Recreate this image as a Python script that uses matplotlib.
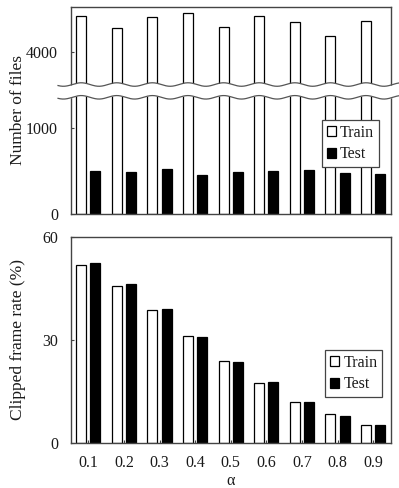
import numpy as np
import matplotlib
matplotlib.use("Agg")
import matplotlib.pyplot as plt
from matplotlib.transforms import blended_transform_factory

plt.rcParams['font.family'] = ['Liberation Serif', 'DejaVu Serif']

alphas = ["0.1", "0.2", "0.3", "0.4", "0.5", "0.6", "0.7", "0.8", "0.9"]
files_train = [4413, 4270, 4402, 4452, 4293, 4421, 4351, 4181, 4363]
files_test = [490, 479, 521, 452, 479, 490, 502, 471, 463]
clip_train = [51.8, 45.7, 38.6, 31.0, 23.9, 17.3, 12.0, 8.4, 5.3]
clip_test = [52.4, 46.2, 38.8, 30.9, 23.6, 17.6, 12.0, 7.9, 5.2]

files_ticks = [0, 1000, 4000]
clip_ticks = [0, 30, 60]

# broken axis: values between LOW and HIGH are squeezed into a narrow band
LOW, HIGH, SHIFT = 1350.0, 3619.0, 2114.0
MID_SLOPE = ((HIGH - SHIFT) - LOW) / (HIGH - LOW)


def fwd(y):
    y = np.asarray(y, dtype=float)
    return np.where(y <= LOW, y,
                    np.where(y >= HIGH, y - SHIFT, LOW + (y - LOW) * MID_SLOPE))


def inv(v):
    v = np.asarray(v, dtype=float)
    top = HIGH - SHIFT
    return np.where(v <= LOW, v,
                    np.where(v >= top, v + SHIFT, LOW + (v - LOW) / MID_SLOPE))


EDGE = "#444444"
TXT = "#1a1a1a"
W, H = 399, 488
fig = plt.figure(figsize=(W / 100, H / 100), dpi=100)

left = 70.5 / W
width = 320.5 / W
ax1 = fig.add_axes([left, (H - 213.5) / H, width, 206.2 / H])
ax2 = fig.add_axes([left, (H - 442.7) / H, width, 206.0 / H])

x = np.arange(len(alphas))
bw = 0.28
off = 0.2


def style(ax):
    for s in ax.spines.values():
        s.set_color(EDGE)
        s.set_linewidth(1.0)
    ax.tick_params(axis='both', direction='in', length=2.5, width=0.8,
                   colors=EDGE, labelcolor=TXT, labelsize=11.5)
    ax.tick_params(axis='y', pad=9)
    ax.tick_params(axis='x', pad=9)
    ax.set_xlim(-0.5, len(alphas) - 0.5)


def add_legend(ax, anchor):
    leg = ax.legend(loc='upper left', bbox_to_anchor=anchor, borderaxespad=0,
                    fancybox=False, edgecolor=EDGE, framealpha=1, fontsize=11.5,
                    handlelength=0.6, handleheight=0.6, handletextpad=0.25,
                    borderpad=0.3, labelspacing=0.35)
    leg.get_frame().set_linewidth(0.9)
    leg.set_zorder(7)
    for t in leg.get_texts():
        t.set_color(TXT)
    return leg


# top panel: number of files
ax1.set_yscale('function', functions=(fwd, inv))
ax1.bar(x - off, files_train, bw, color='white', edgecolor='black', linewidth=0.9, label='Train')
ax1.bar(x + off, files_test, bw, color='black', edgecolor='black', linewidth=0.9, label='Test')
ax1.set_ylim(0, 4517)
ax1.set_yticks(files_ticks)
ax1.set_yticklabels([str(t) for t in files_ticks])
ax1.set_xticks(x)
ax1.set_xticklabels([])
style(ax1)
ax1.tick_params(axis='x', length=0)
ax1.set_ylabel("Number of files", fontsize=12.5, color=TXT)
ax1.yaxis.set_label_coords(-0.14, 0.5)

# wavy break band
tr = blended_transform_factory(ax1.transData, ax1.transAxes)
xs = np.linspace(-0.85, 8.75, 600)
amp = 0.0085
wave = amp * np.cos(2 * np.pi * (xs + 0.2))
y_hi = 0.6255 + wave
y_lo = 0.5635 + wave
ax1.fill_between(xs, y_lo, y_hi, transform=tr, color='white', zorder=5, clip_on=False, linewidth=0)
ax1.plot(xs, y_hi, transform=tr, color='#555555', lw=0.9, zorder=6, clip_on=False)
ax1.plot(xs, y_lo, transform=tr, color='#555555', lw=0.9, zorder=6, clip_on=False)

add_legend(ax1, (0.784, 0.4534))

# bottom panel: clipped frame rate
ax2.bar(x - off, clip_train, bw, color='white', edgecolor='black', linewidth=0.9, label='Train')
ax2.bar(x + off, clip_test, bw, color='black', edgecolor='black', linewidth=0.9, label='Test')
ax2.set_ylim(0, 60)
ax2.set_yticks(clip_ticks)
ax2.set_xticks(x)
ax2.set_xticklabels(alphas)
style(ax2)
ax2.set_ylabel("Clipped frame rate (%)", fontsize=12.5, color=TXT)
ax2.yaxis.set_label_coords(-0.14, 0.5)
ax2.set_xlabel("α", fontsize=11.5, color=TXT, labelpad=1)

add_legend(ax2, (0.794, 0.45))

fig.savefig("out.png", dpi=100, facecolor='white')
